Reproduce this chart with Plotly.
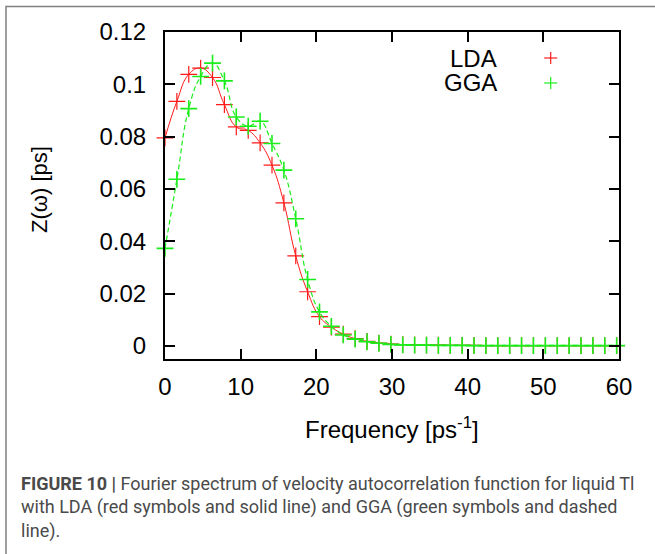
import plotly.graph_objects as go

# frequency values (ps^-1)
freq = [0.00, 1.57, 3.14, 4.71, 6.28, 7.85, 9.42, 11.00, 12.57, 14.14,
        15.71, 17.28, 18.85, 20.42, 21.99, 23.56, 25.13, 26.70, 28.27, 29.85,
        31.42, 32.99, 34.56, 36.13, 37.70, 39.27, 40.84, 42.41, 43.98, 45.55,
        47.12, 48.69, 50.27, 51.84, 53.41, 54.98, 56.55, 58.12, 59.69]

lda = [0.0795, 0.0935, 0.1038, 0.1062, 0.1026, 0.0922, 0.0837, 0.0824, 0.0776, 0.0691,
       0.0547, 0.0344, 0.0207, 0.0112, 0.0072, 0.0045, 0.0028, 0.0017, 0.0011, 0.0007,
       0.0005, 0.0004, 0.0003, 0.0003, 0.0002, 0.0002, 0.0002, 0.0001, 0.0001, 0.0001,
       0.0001, 0.0001, 0.0001, 0.0001, 0.0001, 0.0001, 0.0001, 0.0001, 0.0001]

gga = [0.0373, 0.0637, 0.0907, 0.1030, 0.1081, 0.1013, 0.0875, 0.0840, 0.0859, 0.0774,
       0.0672, 0.0486, 0.0254, 0.0130, 0.0075, 0.0042, 0.0026, 0.0016, 0.0010, 0.0006,
       0.0004, 0.0003, 0.0003, 0.0002, 0.0002, 0.0002, 0.0001, 0.0001, 0.0001, 0.0001,
       0.0001, 0.0001, 0.0001, 0.0001, 0.0001, 0.0001, 0.0001, 0.0001, 0.0001]

series_names = ["LDA", "GGA"]
x_ticks = [0, 10, 20, 30, 40, 50, 60]
y_ticks = [0, 0.02, 0.04, 0.06, 0.08, 0.1, 0.12]

RED = "#ff1a1a"
GREEN = "#1aee1a"
FONT = "Liberation Sans, Arial, sans-serif"

fig = go.Figure()
fig.add_trace(go.Scatter(x=freq, y=lda, mode="lines", line=dict(color=RED, width=1, shape="spline", smoothing=1.3),
                         showlegend=False, hoverinfo="skip"))
fig.add_trace(go.Scatter(x=freq, y=lda, mode="markers", name=series_names[0],
                         marker=dict(symbol="cross-thin", size=12, line=dict(color=RED, width=1.2)),
                         showlegend=False, cliponaxis=False))
fig.add_trace(go.Scatter(x=freq, y=gga, mode="lines", line=dict(color=GREEN, width=1.2, dash="5px,3px", shape="spline", smoothing=1.3),
                         showlegend=False, hoverinfo="skip"))
fig.add_trace(go.Scatter(x=freq, y=gga, mode="markers", name=series_names[1],
                         marker=dict(symbol="cross-thin", size=12, line=dict(color=GREEN, width=1.6)),
                         showlegend=False, cliponaxis=False))

W, H = 655, 554
L, R, T, B = 165, 36, 32, 195
pw, ph = W - L - R, H - T - B

def px(xp):
    return (xp - L) / pw

def py(yp):
    return (H - B - yp) / ph

shapes = []
# figure frame (gray)
shapes.append(dict(type="rect", xref="paper", yref="paper", x0=px(6), x1=px(W + 10), y0=py(6.5), y1=py(H + 10),
                   line=dict(color="#808080", width=1.5), fillcolor="rgba(0,0,0,0)", layer="below"))

annotations = []
# legend
leg_y = [58, 83]
leg_col = [RED, GREEN]
for name, yy, col in zip(series_names, leg_y, leg_col):
    annotations.append(dict(text=name, xref="paper", yref="paper", x=px(499), y=py(yy), xanchor="right", yanchor="middle",
                            showarrow=False, font=dict(family=FONT, size=24, color="black")))
    cx, cy = 550.7, yy
    shapes.append(dict(type="line", xref="paper", yref="paper", x0=px(cx - 6.5), x1=px(cx + 6.5), y0=py(cy), y1=py(cy),
                       line=dict(color=col, width=1.2)))
    shapes.append(dict(type="line", xref="paper", yref="paper", x0=px(cx), x1=px(cx), y0=py(cy - 6), y1=py(cy + 6),
                       line=dict(color=col, width=1.2)))

# axis titles
annotations.append(dict(text="Frequency [ps<sup>-1</sup>]", xref="paper", yref="paper", x=px(392), y=py(428),
                        xanchor="center", yanchor="middle", showarrow=False, font=dict(family=FONT, size=24, color="black")))
annotations.append(dict(text="Z(\u03c9) [ps]", xref="paper", yref="paper", x=px(40), y=py(190), textangle=-90,
                        xanchor="center", yanchor="middle", showarrow=False, font=dict(family=FONT, size=22, color="black")))

# caption
cap_font = "Roboto, Liberation Sans, Arial, sans-serif"
cap_lines = [
    "<b>FIGURE 10 |</b> Fourier spectrum of velocity autocorrelation function for liquid Tl",
    "with LDA (red symbols and solid line) and GGA (green symbols and dashed",
    "line).",
]
cap_y = [483, 507, 531]
for t, yy in zip(cap_lines, cap_y):
    annotations.append(dict(text=t, xref="paper", yref="paper", x=px(19), y=py(yy), xanchor="left", yanchor="middle",
                            showarrow=False, font=dict(family=cap_font, size=18, color="#4a4a4a")))

axis_common = dict(showline=True, linecolor="black", linewidth=2, mirror="allticks", ticks="inside", ticklen=10,
                   tickwidth=1.5, tickcolor="black", showgrid=False, zeroline=False,
                   tickfont=dict(family=FONT, size=24, color="black"))

fig.update_layout(
    width=W, height=H,
    margin=dict(l=L, r=R, t=T, b=B),
    paper_bgcolor="white", plot_bgcolor="white",
    xaxis=dict(range=[0, 60], tickvals=x_ticks, ticktext=[str(v) for v in x_ticks], ticklabelstandoff=5, **axis_common),
    yaxis=dict(range=[-0.005, 0.12], tickvals=y_ticks, ticktext=[("%g" % v) for v in y_ticks], ticklabelstandoff=12, **axis_common),
    shapes=shapes,
    annotations=annotations,
    showlegend=False,
)

fig.write_html("out.html")
